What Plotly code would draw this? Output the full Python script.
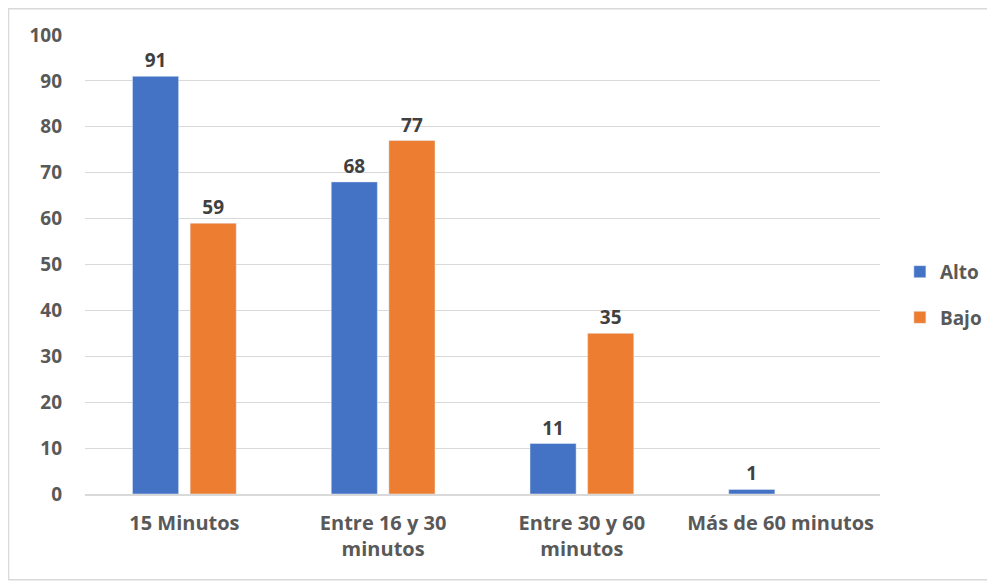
import plotly.graph_objects as go

categories = ["15 Minutos", "Entre 16 y 30<br>minutos", "Entre 30 y 60<br>minutos", "Más de 60 minutos"]
alto = [91, 68, 11, 1]
bajo = [59, 77, 35, None]
y_ticks = [0, 10, 20, 30, 40, 50, 60, 70, 80, 90, 100]

FONT = "Open Sans"
GRAY = "#595959"
OFF = 8  # the page's default body margin shifts the figure by this much

fig = go.Figure()
fig.add_trace(go.Bar(
    name="Alto", x=categories, y=alto, marker_color="#4472C4",
    text=[str(v) for v in alto], textposition="outside", cliponaxis=False,
    textfont=dict(family=FONT, size=19, color="#404040", weight="bold"),
    legendgroup="a",
))
fig.add_trace(go.Bar(
    name="Bajo", x=categories, y=bajo, marker_color="#ED7D31",
    text=["" if v is None else str(v) for v in bajo], textposition="outside", cliponaxis=False,
    textfont=dict(family=FONT, size=19, color="#404040", weight="bold"),
    legendgroup="b",
))

fig.update_layout(
    width=995 - OFF, height=582 - OFF,
    margin=dict(l=85 - OFF, r=115, t=35 - OFF, b=88, autoexpand=False),
    paper_bgcolor="white", plot_bgcolor="white",
    barmode="group", bargap=0.42, bargroupgap=0.2,
    font=dict(family=FONT, size=19, color=GRAY, weight="bold"),
    legend=dict(x=1.025, xanchor="left", y=0.434, yanchor="middle",
                traceorder="grouped", tracegroupgap=18,
                font=dict(family=FONT, size=19, color=GRAY, weight="bold"),
                itemwidth=30),
    showlegend=True,
    shapes=[dict(type="rect", xref="paper", yref="paper",
                 x0=-0.0962, x1=1.142, y0=-0.187, y1=1.057,
                 line=dict(color="#D9D9D9", width=1.5), fillcolor="rgba(0,0,0,0)", layer="below")],
)
fig.update_yaxes(range=[0, 100], tickvals=y_ticks, showgrid=True, gridcolor="#D9D9D9",
                 gridwidth=1, zeroline=False, showline=False, ticklabelstandoff=22,
                 tickfont=dict(family=FONT, size=19, color=GRAY, weight="bold"))
fig.update_xaxes(showline=True, linecolor="#D9D9D9", linewidth=1.5, ticklabelstandoff=10,
                 tickfont=dict(family=FONT, size=20, color=GRAY, weight="bold"))

fig.write_html("out.html")
